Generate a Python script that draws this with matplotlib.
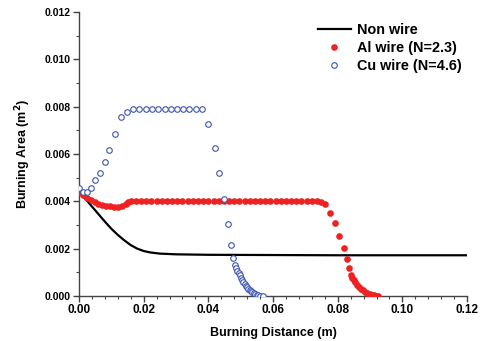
import matplotlib
matplotlib.use("Agg")
import matplotlib.pyplot as plt
from matplotlib.ticker import MultipleLocator, FormatStrFormatter

plt.rcParams["font.family"] = ["Liberation Sans", "DejaVu Sans"]
plt.rcParams["font.weight"] = "bold"

# Non wire (solid line)
non_x = [0.000, 0.002, 0.004, 0.006, 0.008, 0.010, 0.012, 0.014, 0.016, 0.018,
         0.020, 0.022, 0.025, 0.030, 0.040, 0.060, 0.080, 0.100, 0.120]
non_y = [0.00440, 0.00410, 0.00378, 0.00346, 0.00314, 0.00284, 0.00258, 0.00235,
         0.00215, 0.00200, 0.00190, 0.00184, 0.00179, 0.00176, 0.00174, 0.00173,
         0.00172, 0.00172, 0.00172]

# Al wire (N=2.3), filled red dots
al_x = [0.0000, 0.0011, 0.0024, 0.0036, 0.0048, 0.0060, 0.0072, 0.0084, 0.0096,
        0.0108, 0.0120, 0.0132, 0.0144, 0.0152, 0.0160,
        0.0176, 0.0192, 0.0208, 0.0224, 0.0240, 0.0256, 0.0272, 0.0288, 0.0304,
        0.0320, 0.0336, 0.0352, 0.0368, 0.0384, 0.0400, 0.0416, 0.0432, 0.0448,
        0.0464, 0.0480, 0.0496, 0.0512, 0.0528, 0.0544, 0.0560, 0.0576, 0.0592,
        0.0608, 0.0624, 0.0640, 0.0656, 0.0672, 0.0688, 0.0704, 0.0720, 0.0736,
        0.0748,
        0.0761, 0.0777, 0.0791, 0.0805, 0.0818, 0.0828, 0.0835, 0.0841, 0.0845,
        0.0850, 0.0855, 0.0860, 0.0866, 0.0872, 0.0878, 0.0885, 0.0892, 0.0899,
        0.0906, 0.0913, 0.0920, 0.0926]
al_y = [0.00440, 0.00427, 0.00413, 0.00406, 0.00398, 0.00390, 0.00385, 0.00381,
        0.00379, 0.00378, 0.00378, 0.00381, 0.00390, 0.00397, 0.00400,
        0.00400, 0.00400, 0.00400, 0.00400, 0.00400, 0.00400, 0.00400, 0.00400,
        0.00400, 0.00400, 0.00400, 0.00400, 0.00400, 0.00400, 0.00400, 0.00400,
        0.00400, 0.00400, 0.00400, 0.00400, 0.00400, 0.00400, 0.00400, 0.00400,
        0.00400, 0.00400, 0.00400, 0.00400, 0.00400, 0.00400, 0.00400, 0.00400,
        0.00400, 0.00400, 0.00400, 0.00400, 0.00399,
        0.00389, 0.00350, 0.00307, 0.00254, 0.00204, 0.00156, 0.00118, 0.00089,
        0.00078, 0.00067, 0.00057, 0.00048, 0.00039, 0.00031, 0.00024, 0.00018,
        0.00012, 0.00008, 0.00005, 0.00003, 0.00001, 0.00000]

# Cu wire (N=4.6), open blue circles
cu_x = [0.0000, 0.0011, 0.0024, 0.0037, 0.0050, 0.0065, 0.0079, 0.0094, 0.0111,
        0.0130, 0.0148, 0.0167, 0.0187, 0.0206, 0.0226, 0.0245, 0.0265, 0.0285,
        0.0303, 0.0323, 0.0341, 0.0361, 0.0381, 0.0400, 0.0419, 0.0434, 0.0449,
        0.0462, 0.0471, 0.0477, 0.0482, 0.0486, 0.0490, 0.0494, 0.0497, 0.0501,
        0.0504, 0.0508, 0.0512, 0.0516, 0.0520, 0.0524, 0.0528, 0.0532, 0.0536,
        0.0540, 0.0545, 0.0550, 0.0555, 0.0560, 0.0568]
cu_y = [0.00458, 0.00441, 0.00441, 0.00457, 0.00488, 0.00520, 0.00564, 0.00617,
        0.00686, 0.00756, 0.00779, 0.00788, 0.00790, 0.00790, 0.00790, 0.00790,
        0.00790, 0.00790, 0.00790, 0.00790, 0.00790, 0.00790, 0.00788, 0.00727,
        0.00625, 0.00520, 0.00410, 0.00306, 0.00214, 0.00162, 0.00131, 0.00118,
        0.00106, 0.00096, 0.00087, 0.00078, 0.00069, 0.00060, 0.00052, 0.00044,
        0.00037, 0.00031, 0.00025, 0.00020, 0.00016, 0.00012, 0.00008, 0.00005,
        0.00003, 0.00001, 0.00000]

fig = plt.figure(figsize=(4.86, 3.41), dpi=100)
ax = fig.add_axes([0.1626, 0.132, 0.7984, 0.833])

ax.plot(non_x, non_y, color="black", linewidth=1.6, label="Non wire", zorder=2)
ax.plot(al_x, al_y, linestyle="none", marker="o", markersize=4.8,
        color="#ee2222", markeredgewidth=0, label="Al wire (N=2.3)", zorder=3)
ax.plot(cu_x, cu_y, linestyle="none", marker="o", markersize=4.0,
        markerfacecolor="white", markeredgecolor="#3a55b0", markeredgewidth=0.8,
        label="Cu wire (N=4.6)", zorder=4)

ax.set_xlim(0, 0.12)
ax.set_ylim(0, 0.012)
ax.xaxis.set_major_locator(MultipleLocator(0.02))
ax.xaxis.set_minor_locator(MultipleLocator(0.004))
ax.yaxis.set_major_locator(MultipleLocator(0.002))
ax.yaxis.set_minor_locator(MultipleLocator(0.001))
ax.xaxis.set_major_formatter(FormatStrFormatter("%.2f"))
ax.yaxis.set_major_formatter(FormatStrFormatter("%.3f"))

for side in ("top", "right"):
    ax.spines[side].set_visible(False)
for side in ("left", "bottom"):
    ax.spines[side].set_color("#444444")
    ax.spines[side].set_linewidth(1.0)
ax.tick_params(which="major", direction="out", length=4, width=1.0,
               color="#444444", pad=2)
ax.tick_params(which="minor", direction="out", length=2.5, width=0.8,
               color="#444444")
ax.tick_params(axis="x", labelsize=8.5)
ax.tick_params(axis="y", labelsize=7.5)
for lab in ax.get_xticklabels() + ax.get_yticklabels():
    lab.set_fontweight("bold")

ax.set_xlabel("Burning Distance (m)", fontsize=9, fontweight="bold", labelpad=8)
ax.set_ylabel("Burning Area (m$^\\mathbf{2}$)", fontsize=9, fontweight="bold",
              labelpad=8)

ax.legend(loc="upper right", bbox_to_anchor=(1.008, 0.993), frameon=False,
          prop={"size": 10.4, "weight": "bold"}, handlelength=2.3,
          handletextpad=0.4, labelspacing=0.28, borderaxespad=0.2)

fig.savefig("out.png", dpi=100)
